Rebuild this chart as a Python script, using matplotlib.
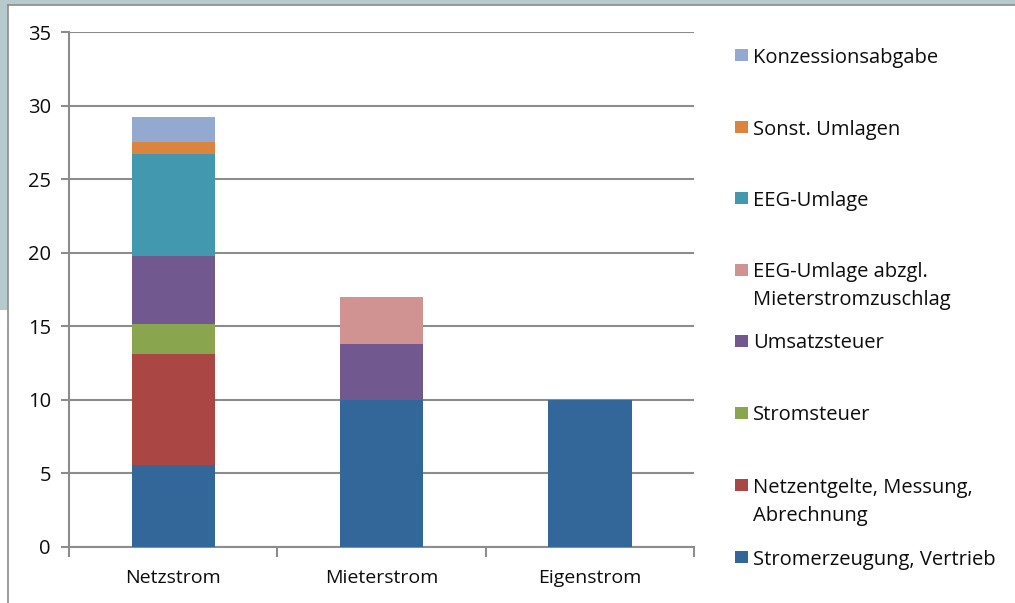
import matplotlib.pyplot as plt
from matplotlib.patches import Rectangle
from matplotlib.lines import Line2D
import numpy as np

plt.rcParams['font.family'] = ['Open Sans', 'DejaVu Sans']

categories = ['Netzstrom', 'Mieterstrom', 'Eigenstrom']

# series from bottom of the stack to the top
series_names = [
    'Stromerzeugung, Vertrieb',
    'Netzentgelte, Messung,\nAbrechnung',
    'Stromsteuer',
    'Umsatzsteuer',
    'EEG-Umlage abzgl.\nMieterstromzuschlag',
    'EEG-Umlage',
    'Sonst. Umlagen',
    'Konzessionsabgabe',
]
stromerzeugung = [5.6, 10.0, 10.0]
netzentgelte = [7.5, 0.0, 0.0]
stromsteuer = [2.05, 0.0, 0.0]
umsatzsteuer = [4.65, 3.8, 0.0]
eeg_abzgl = [0.0, 3.2, 0.0]
eeg_umlage = [6.9, 0.0, 0.0]
sonst_umlagen = [0.8, 0.0, 0.0]
konzession = [1.7, 0.0, 0.0]
series_values = [stromerzeugung, netzentgelte, stromsteuer, umsatzsteuer,
                 eeg_abzgl, eeg_umlage, sonst_umlagen, konzession]
colors = ['#336699', '#AA4643', '#89A54E', '#71588F',
          '#D09392', '#4198AF', '#DB843D', '#93A9CF']
yticks = [0, 5, 10, 15, 20, 25, 30, 35]

W, H = 1015, 603
FS = 14.5
fig = plt.figure(figsize=(W / 100, H / 100), dpi=100)
fig.patch.set_facecolor('white')


def px(x, y):
    # pixel position (from top-left) -> figure fraction
    return x / W, 1 - y / H


# slide background peeking in at the top and left edge
bg = '#B6CACD'
fig.patches.append(Rectangle((0, 1 - 5 / H), 1, 5 / H, transform=fig.transFigure,
                             facecolor=bg, edgecolor='none', zorder=0))
fig.patches.append(Rectangle((0, 1 - 310 / H), 8 / W, 310 / H, transform=fig.transFigure,
                             facecolor=bg, edgecolor='none', zorder=0))
fig.lines.append(Line2D([8 / W, 8 / W], [0, 1 - 5 / H], transform=fig.transFigure,
                        color='#8C8C8C', lw=1.2))
fig.lines.append(Line2D([8 / W, 1], [1 - 5 / H, 1 - 5 / H], transform=fig.transFigure,
                        color='#8C8C8C', lw=1.2))

ax = fig.add_axes([69 / W, 1 - 547 / H, (694 - 69) / W, (547 - 32) / H])
x = np.arange(len(categories))
bottom = np.zeros(len(categories))
for vals, col in zip(series_values, colors):
    ax.bar(x, vals, width=0.4, bottom=bottom, color=col, edgecolor='none', zorder=3)
    bottom += np.array(vals)

ax.set_xlim(-0.5, len(categories) - 0.5)
ax.set_ylim(0, 35)
ax.set_yticks(yticks)
ax.set_yticklabels([str(t) for t in yticks], fontsize=FS, color='#0D0D0D')
ax.yaxis.grid(True, color='#8C8C8C', lw=1.5, zorder=0)
ax.set_xticks(x)
ax.set_xticklabels(categories, fontsize=14, color='#0D0D0D')
ax.tick_params(axis='x', length=0, pad=16)
ax.set_xticks(np.arange(len(categories) + 1) - 0.5, minor=True)
ax.tick_params(axis='x', which='minor', length=7, color='#8C8C8C', width=1.5)
ax.tick_params(axis='y', length=6, color='#8C8C8C', width=1.5, pad=7)
for side in ['top', 'right']:
    ax.spines[side].set_visible(False)
for side in ['left', 'bottom']:
    ax.spines[side].set_color('#8C8C8C')
    ax.spines[side].set_linewidth(1.5)

# legend, drawn like Excel: marker beside the first line of each label
legend_y = [55, 127, 198, 270, 341, 413, 485, 557]
line_gap = 28
for name, col, yy in zip(series_names[::-1], colors[::-1], legend_y):
    fx, fy = px(735, yy + 6)
    fig.patches.append(Rectangle((fx, fy), 12.5 / W, 12.5 / H, transform=fig.transFigure,
                                 facecolor=col, edgecolor='none'))
    for i, line in enumerate(name.split('\n')):
        tx, ty = px(753, yy + 7.5 + i * line_gap)
        fig.text(tx, ty, line, fontsize=FS, va='baseline', ha='left', color='#0D0D0D')

fig.savefig('out.png', dpi=100)
